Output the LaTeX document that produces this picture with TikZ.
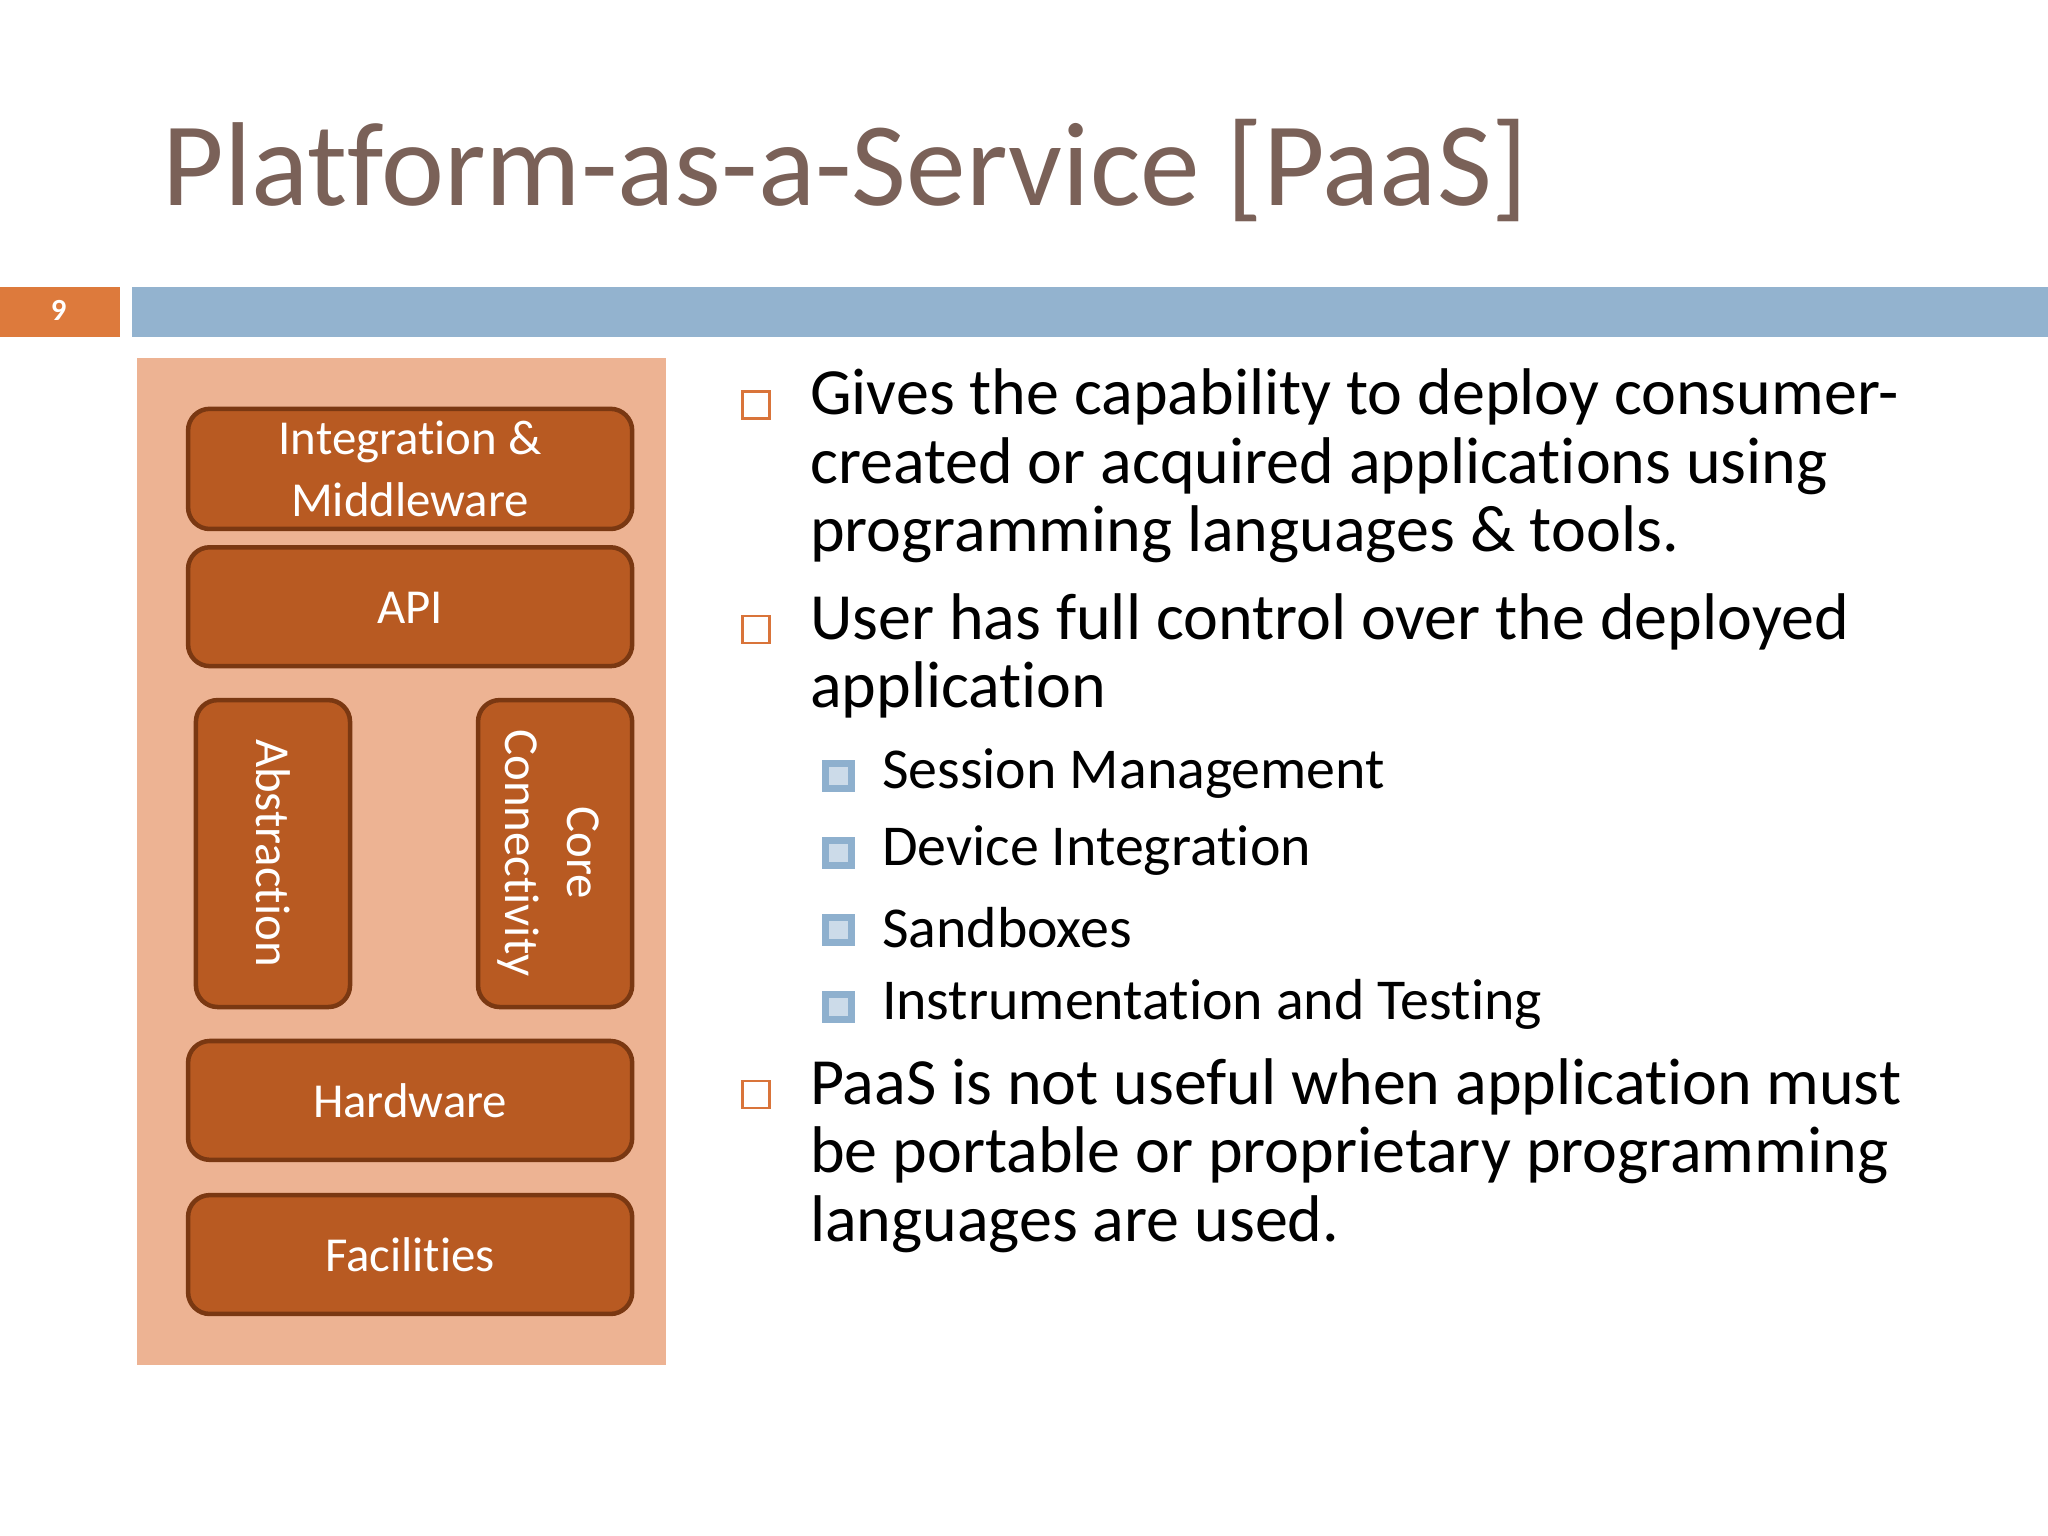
\documentclass[tikz,border=0pt]{standalone}
\usepackage{fontspec}
\setmainfont{Carlito}[Ligatures=NoCommon]
\definecolor{titlec}{HTML}{7A6158}
\definecolor{numc}{HTML}{DD7A3C}
\definecolor{barc}{HTML}{93B3CF}
\definecolor{panelc}{HTML}{EDB393}
\definecolor{boxc}{HTML}{B85A22}
\definecolor{boxb}{HTML}{7A3812}
\definecolor{bulc}{HTML}{D9743A}
\definecolor{subc}{HTML}{8EB0CE}
\begin{document}
\begin{tikzpicture}[x=0.01in,y=-0.01in,
 blk/.style={draw=boxb,line width=2.5pt,fill=boxc,rounded corners=12pt},
 lab/.style={text=white,align=center,font=\fontsize{27}{34}\selectfont},
 txt/.style={anchor=north west,align=left,inner sep=0pt,font=\fontsize{36.5}{38}\selectfont},
 stx/.style={anchor=west,inner sep=0pt,font=\fontsize{32}{36}\selectfont},
 bul/.style={draw=bulc,line width=1.5pt,minimum size=15pt,inner sep=0pt},
 sbul/.style={draw=subc,line width=4pt,fill=subc!45,minimum size=14pt,inner sep=0pt}]
\useasboundingbox (0,0) rectangle (1568,1176);
\fill[white] (0,0) rectangle (1568,1176);
\node (title)[anchor=base west,inner sep=0pt,text=titlec,font=\fontsize{66}{70}\selectfont] at (124,157) {Platform-as-a-Service [PaaS]};
\fill[numc] (0,220) rectangle (92,258);
\node (num)[text=white,font=\bfseries\fontsize{17}{20}\selectfont] at (45,238) {9};
\fill[barc] (101,220) rectangle (1568,258);
\fill[panelc] (105,274) rectangle (510,1045);
\path[blk] (144,313) rectangle (484,405);
\node (im) at (314,359) [lab] {Integration \&\\Middleware};
\path[blk] (144,419) rectangle (484,510);
\node (api) at (314,465) [lab] {API};
\path[blk] (150,536) rectangle (268,771);
\node (abs) at (209,653) [rotate=-90,lab] {Abstraction};
\path[blk] (366,536) rectangle (484,771);
\node (core) at (420,653) [rotate=-90,lab] {Core\\Connectivity};
\path[blk] (144,797) rectangle (484,888);
\node (hw) at (314,843) [lab] {Hardware};
\path[blk] (144,915) rectangle (484,1006);
\node (fac) at (314,961) [lab] {Facilities};
\node (q1)[bul] at (579,310) {};
\node (t1)[txt] at (620,282) {Gives the capability to deploy consumer-\\created or acquired applications using\\programming languages \& tools.};
\node (q2)[bul] at (579,482) {};
\node (t2)[txt] at (620,454) {User has full control over the deployed\\application};
\node (s1)[sbul] at (642,594) {};
\node (u1)[stx] at (675,592) {Session Management};
\node (s2)[sbul] at (642,653) {};
\node (u2)[stx] at (675,651) {Device Integration};
\node (s3)[sbul] at (642,712) {};
\node (u3)[stx] at (675,710) {Sandboxes};
\node (s4)[sbul] at (642,771) {};
\node (u4)[stx] at (675,769) {Instrumentation and Testing};
\node (q3)[bul] at (579,838) {};
\node (t3)[txt] at (620,810) {PaaS is not useful when application must\\be portable or proprietary programming\\languages are used.};
\end{tikzpicture}
\end{document}
